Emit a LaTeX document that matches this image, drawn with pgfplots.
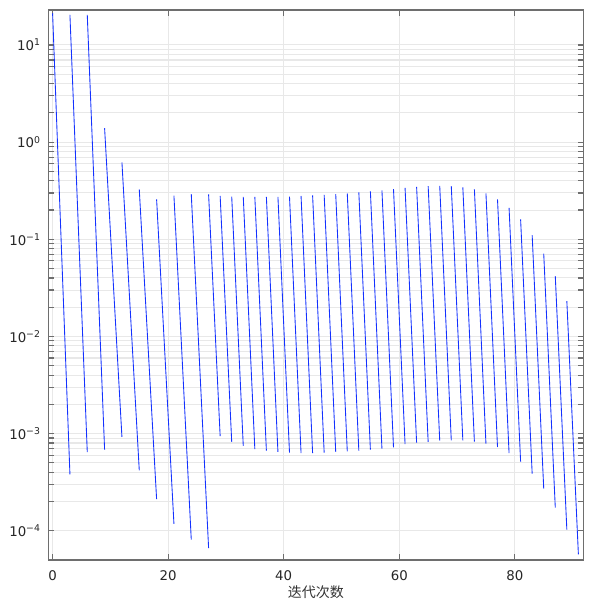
\documentclass[border=0pt]{standalone}
\usepackage{fontspec}
\setmainfont{DejaVu Sans}
\newfontfamily\cjk{Noto Sans CJK SC}
\usepackage{pgfplots}
\usepackage{pgfplotstable}
\pgfplotsset{compat=1.18}
\definecolor{gridc}{RGB}{232,232,232}
\definecolor{axc}{RGB}{110,110,110}
\pgfplotstableread{
x y
0 21.2
3 3.81e-4
3 nan
3 20.4
6 6.46e-4
6 nan
6 20.4
9 6.84e-4
9 nan
9 1.39
12 9.23e-4
12 nan
12 0.62
15 4.19e-4
15 nan
15 0.327
18 2.12e-4
18 nan
18 0.258
21 1.18e-4
21 nan
21 0.281
24 8.09e-5
24 nan
24 0.292
27 6.64e-5
27 nan
27 0.290
29 9.4e-4
29 nan
29 0.279
31 8.2e-4
31 nan
31 0.275
33 7.46e-4
33 nan
33 0.273
35 6.94e-4
35 nan
35 0.273
37 6.68e-4
37 nan
37 0.273
39 6.47e-4
39 nan
39 0.273
41 6.37e-4
41 nan
41 0.275
43 6.31e-4
43 nan
43 0.279
45 6.31e-4
45 nan
45 0.283
47 6.37e-4
47 nan
47 0.287
49 6.47e-4
49 nan
49 0.292
51 6.57e-4
51 nan
51 0.296
53 6.68e-4
53 nan
53 0.304
55 6.84e-4
55 nan
55 0.311
57 7.0e-4
57 nan
57 0.319
59 7.23e-4
59 nan
59 0.329
61 7.81e-4
61 nan
61 0.339
63 8.08e-4
63 nan
63 0.347
65 8.2e-4
65 nan
65 0.353
67 8.47e-4
67 nan
67 0.355
69 8.53e-4
69 nan
69 0.353
71 8.53e-4
71 nan
71 0.342
73 8.27e-4
73 nan
73 0.327
75 7.89e-4
75 nan
75 0.297
77 7.28e-4
77 nan
77 0.258
79 6.31e-4
79 nan
79 0.211
81 5.14e-4
81 nan
81 0.160
83 3.87e-4
83 nan
83 0.110
85 2.72e-4
85 nan
85 0.071
87 1.73e-4
87 nan
87 0.0418
89 1.03e-4
89 nan
89 0.0231
91 5.7e-5
}\convdata
\begin{document}
\begin{tikzpicture}
\begin{axis}[
  scale only axis,
  width=401.5pt, height=412.5pt,
  xmin=-0.75, xmax=91.9,
  ymode=log, ymin=5e-5, ymax=22.9,
  xtick={0,20,40,60,80},
  xticklabels={0,20,40,60,80},
  ytick={1e-4,1e-3,1e-2,1e-1,1,10},
  yticklabels={10\textsuperscript{−4},10\textsuperscript{−3},10\textsuperscript{−2},10\textsuperscript{−1},10\textsuperscript{0},10\textsuperscript{1}},
  tick align=inside,
  major tick length=4.5pt, minor tick length=4.5pt,
  tick style={axc, line width=0.9pt},
  axis line style={axc, line width=1pt},
  xmajorgrids, ymajorgrids, yminorgrids,
  major grid style={gridc, line width=0.8pt},
  minor grid style={gridc, line width=0.8pt},
  ticklabel style={font=\fontsize{10}{12}\selectfont, text=black!85},
  yticklabel style={inner sep=0pt, xshift=-5.5pt},
  xticklabel style={inner sep=0pt, yshift=-8pt},
  xlabel={\cjk 迭代次数},
  xlabel style={font=\fontsize{10.5}{12}\selectfont, text=black!80, at={(axis description cs:0.5,0)}, anchor=center, yshift=-24pt},
  clip=true,
]
\addplot[color={rgb,255:red,20;green,50;blue,255}, line width=0.65pt, unbounded coords=jump, mark=none] table[x=x, y=y] {\convdata};
\end{axis}
\pgfresetboundingbox
\path ([xshift=-36.2pt,yshift=-33.75pt]current axis.south west) rectangle ([xshift=4.7pt,yshift=7.5pt]current axis.north east);
\end{tikzpicture}
\end{document}
